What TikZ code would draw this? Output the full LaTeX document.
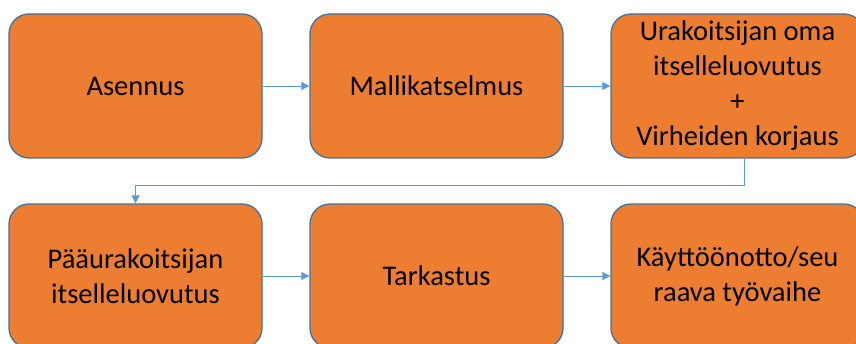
\documentclass[tikz,border=0pt]{standalone}
\usepackage{fontspec}
\setmainfont{Carlito}
\usetikzlibrary{arrows.meta}
\definecolor{boxfill}{HTML}{ED7D31}
\definecolor{boxline}{HTML}{41719C}
\definecolor{arrowc}{HTML}{5B9BD5}
\tikzset{
  stage/.style={draw=boxline, line width=1.3pt, fill=boxfill, rounded corners=20pt,
    minimum width=253pt, minimum height=144pt, align=center, inner sep=0pt,
    font=\fontsize{28.5}{35}\selectfont, text=black},
  conn/.style={draw=arrowc, line width=0.9pt, -{Triangle[length=8pt,width=8pt]}}
}
\begin{document}
\begin{tikzpicture}[x=1pt,y=1pt]
\useasboundingbox (0,0) rectangle (856,343);
\clip (0,0) rectangle (856,343);
\node[stage] (b1) at (135.5,257) {Asennus};
\node[stage] (b2) at (436.5,257) {Mallikatselmus};
\node[stage] (b3) at (737.5,257) {Urakoitsijan oma\\itselleluovutus\\+\\Virheiden korjaus};
\node[stage] (b4) at (135.5,67) {Pääurakoitsijan\\itselleluovutus};
\node[stage] (b5) at (436.5,67) {Tarkastus};
\node[stage] (b6) at (737.5,67) {Käyttöönotto/seu\\raava työvaihe};
\draw[conn] (b1.east) -- (b2.west);
\draw[conn] (b2.east) -- (b3.west);
\draw[conn] ([xshift=6.5pt]b3.south) -- ++(0,-27) -| (b4.north);
\draw[conn] (b4.east) -- (b5.west);
\draw[conn] (b5.east) -- (b6.west);
\end{tikzpicture}
\end{document}
